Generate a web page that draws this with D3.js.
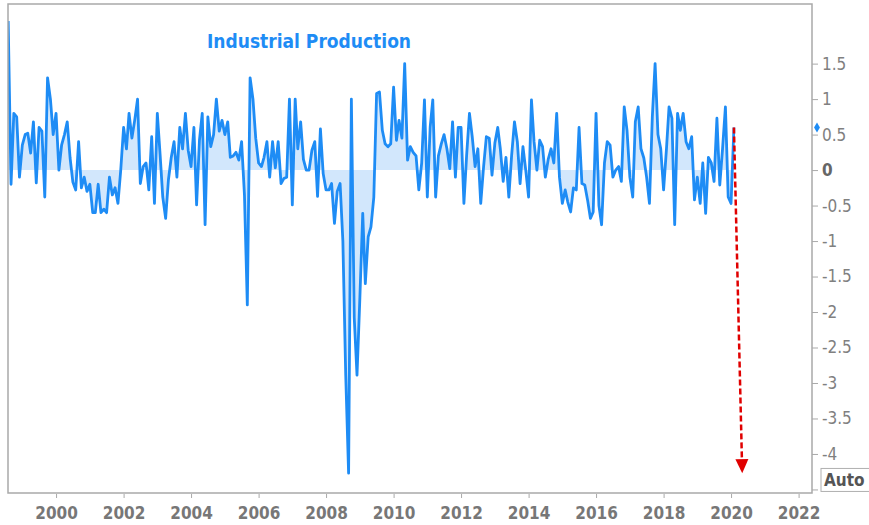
<!DOCTYPE html>
<html>
<head>
<meta charset="utf-8">
<script src="https://cdn.jsdelivr.net/npm/d3@7"></script>
<style>
  body { margin: 0; background: #fff; }
  svg { display: block; }
  text { font-family: "DejaVu Sans Condensed", "DejaVu Sans", sans-serif; }
</style>
</head>
<body>
<svg id="chart"></svg>
<script>
const title = "Industrial Production";
const firstMonth = new Date(1998, 7, 1);

// monthly % change, Aug 1998 .. Feb 2020
const ipChange = [
  2.1, -0.2, 0.8, 0.75, -0.1,                                          // 1998 (Aug-Dec)
  0.35, 0.5, 0.52, 0.24, 0.68, -0.18, 0.6, 0.55, -0.38, 1.3, 1.0, 0.5, // 1999
  0.8, 0.0, 0.35, 0.5, 0.68, 0.17, -0.17, -0.28, 0.4, -0.25, -0.1, -0.3, // 2000
  -0.2, -0.6, -0.6, -0.2, -0.6, -0.55, -0.6, -0.1, -0.35, -0.25, -0.47, 0.0, // 2001
  0.6, 0.3, 0.8, 0.45, 0.7, 1.0, -0.19, 0.05, 0.1, -0.28, 0.47, -0.47, // 2002
  0.8, 0.2, -0.38, -0.68, -0.14, 0.18, 0.4, -0.1, 0.6, 0.3, 0.8, 0.28, // 2003
  0.05, 0.6, -0.49, 0.42, 0.8, -0.77, 0.75, 0.33, 0.5, 1.0, 0.55, 0.7, // 2004
  0.5, 0.68, 0.18, 0.2, 0.25, 0.14, 0.4, -0.35, -1.9, 1.3, 1.0, 0.45, // 2005
  0.1, 0.05, 0.18, 0.4, -0.1, 0.4, 0.03, 0.4, -0.19, -0.12, -0.1, 1.0, // 2006
  -0.49, 1.0, 0.3, 0.68, 0.15, 0.0, 0.0, 0.28, 0.4, -0.37, 0.58, -0.05, // 2007
  -0.28, -0.28, -0.19, -0.75, -0.3, -0.19, -1.0, -2.89, -4.27, 1.0, -2.08, -2.89, // 2008
  -1.8, -0.61, -1.6, -0.94, -0.8, -0.38, 1.08, 1.1, 0.56, 0.37, 0.33, 0.37, // 2009
  1.17, 0.42, 0.7, 0.45, 1.5, 0.14, 0.33, 0.25, 0.2, -0.28, 0.1, 0.99, // 2010
  -0.38, 0.61, 0.99, -0.38, 0.2, 0.37, 0.5, 0.3, 0.02, 0.68, -0.1, 0.6, // 2011
  0.6, -0.47, 0.2, 0.8, 0.47, 0.05, 0.3, -0.47, 0.05, 0.47, 0.45, -0.07, // 2012
  0.38, 0.6, 0.3, -0.16, 0.18, -0.38, 0.2, 0.68, 0.4, -0.19, 0.33, 0.0, // 2013
  -0.38, 0.99, 0.4, 0.0, 0.42, 0.33, -0.1, 0.15, 0.3, 0.1, 0.8, -0.1, // 2014
  -0.47, -0.28, -0.45, -0.59, -0.25, -0.28, 0.6, -0.19, -0.21, -0.42, -0.68, -0.59, // 2015
  0.8, -0.5, -0.77, 0.1, 0.4, 0.35, -0.1, 0.0, 0.05, -0.16, 0.89, 0.56, // 2016
  -0.1, -0.38, 0.68, 0.89, 0.3, 0.17, -0.1, -0.47, 0.75, 1.5, 0.5, 0.3, // 2017
  -0.28, 0.3, 0.89, 0.73, -0.77, 0.8, 0.56, 0.8, 0.4, 0.3, 0.47, -0.42, // 2018
  -0.1, -0.47, 0.1, -0.61, 0.18, 0.1, -0.16, 0.73, -0.21, 0.3, 0.89, -0.38, // 2019
  -0.47, 0.6                                                            // 2020 (Jan-Feb)
];

const xTickYears = [2000, 2002, 2004, 2006, 2008, 2010, 2012, 2014, 2016, 2018, 2020, 2022];
const yTickValues = [1.5, 1, 0.5, 0, -0.5, -1, -1.5, -2, -2.5, -3, -3.5, -4, -4.5];
const scaleLabel = "Auto";
const arrowTarget = { date: new Date(2020, 4, 1), value: -4.27 };

const width = 869, height = 525;
const plot = { left: 8, top: 4, right: 812, bottom: 493 };

const svg = d3.select("#chart")
  .attr("width", width)
  .attr("height", height)
  .attr("viewBox", "0 0 " + width + " " + height);

const data = ipChange.map((v, i) => ({ date: d3.timeMonth.offset(firstMonth, i), value: v }));

const x = d3.scaleTime()
  .domain([new Date(1998, 6, 30), new Date(2022, 4, 26)])
  .range([plot.left, plot.right]);

const y = d3.scaleLinear()
  .domain([-4.55, 2.34])
  .range([plot.bottom, plot.top]);

svg.append("defs").append("clipPath").attr("id", "clip")
  .append("rect")
  .attr("x", plot.left).attr("y", plot.top)
  .attr("width", plot.right - plot.left).attr("height", plot.bottom - plot.top);

const g = svg.append("g").attr("clip-path", "url(#clip)");

// shaded band between series and zero
g.append("path")
  .datum(data)
  .attr("fill", "#d2e7fc")
  .attr("d", d3.area().x(d => x(d.date)).y0(y(0)).y1(d => y(d.value)));

g.append("path")
  .datum(data)
  .attr("fill", "none")
  .attr("stroke", "#1e8cf5")
  .attr("stroke-width", 2.8)
  .attr("stroke-linejoin", "round")
  .attr("d", d3.line().x(d => x(d.date)).y(d => y(d.value)));

// frame
svg.append("rect")
  .attr("x", plot.left).attr("y", plot.top)
  .attr("width", plot.right - plot.left).attr("height", plot.bottom - plot.top)
  .attr("fill", "none")
  .attr("stroke", "#a9a9a9")
  .attr("stroke-width", 1.5);

// x axis
const xAxis = svg.append("g")
  .attr("transform", "translate(0," + plot.bottom + ")")
  .call(d3.axisBottom(x)
    .tickValues(xTickYears.map(yr => new Date(yr, 0, 1)))
    .tickFormat(d3.timeFormat("%Y"))
    .tickSize(4)
    .tickPadding(10));
xAxis.select(".domain").remove();
xAxis.selectAll(".tick line").attr("stroke", "#a9a9a9").attr("transform", "translate(0,1)");
xAxis.selectAll(".tick text")
  .attr("fill", "#777")
  .attr("font-size", 17)
  .attr("font-weight", "bold")
  .attr("font-family", "'DejaVu Sans Condensed', 'DejaVu Sans', sans-serif");

// y axis on the right (bottom tick label sits under the scale box)
const yAxis = svg.append("g")
  .attr("transform", "translate(" + plot.right + ",0)")
  .call(d3.axisRight(y)
    .tickValues(yTickValues)
    .tickFormat(d => d === -4.5 ? "" : String(d))
    .tickSize(6)
    .tickPadding(4));
yAxis.select(".domain").remove();
yAxis.selectAll(".tick line").attr("stroke", "#a9a9a9");
yAxis.selectAll(".tick text")
  .attr("fill", d => d === 0 ? "#666" : "#808080")
  .attr("font-weight", d => d === 0 ? "bold" : "normal")
  .attr("font-size", 17)
  .attr("font-family", "'DejaVu Sans Condensed', 'DejaVu Sans', sans-serif");

// last value marker on the axis
const last = data[data.length - 1];
svg.append("path")
  .attr("d", d3.symbol(d3.symbolDiamond, 30)())
  .attr("transform", "translate(" + (plot.right + 5) + "," + y(last.value) + ")")
  .attr("fill", "#1e8cf5");

// scale label box
const box = svg.append("g").attr("transform", "translate(821," + (y(-4.5) - 21) + ")");
box.append("rect")
  .attr("width", 60).attr("height", 23)
  .attr("fill", "#fff")
  .attr("stroke", "#b0b0b0");
box.append("text")
  .attr("x", 3).attr("y", 18)
  .attr("font-size", 17)
  .attr("font-weight", "bold")
  .attr("fill", "#555")
  .text(scaleLabel);

// title
svg.append("text")
  .attr("x", 309)
  .attr("y", 48)
  .attr("text-anchor", "middle")
  .attr("font-size", 19)
  .attr("font-weight", "bold")
  .attr("fill", "#1e8cf5")
  .text(title);

// red dashed arrow from last point
const ax1 = x(last.date), ay1 = y(last.value);
const ax2 = x(arrowTarget.date), ay2 = y(arrowTarget.value);
const ang = Math.atan2(ay2 - ay1, ax2 - ax1);
const headLen = 14, headW = 6.5;
const bx = ax2 - headLen * Math.cos(ang), by = ay2 - headLen * Math.sin(ang);
svg.append("line")
  .attr("x1", ax1).attr("y1", ay1)
  .attr("x2", bx).attr("y2", by)
  .attr("stroke", "#e00000")
  .attr("stroke-width", 2.5)
  .attr("stroke-dasharray", "6,3");
svg.append("path")
  .attr("d", "M" + ax2 + "," + ay2 +
    "L" + (bx + headW * Math.sin(ang)) + "," + (by - headW * Math.cos(ang)) +
    "L" + (bx - headW * Math.sin(ang)) + "," + (by + headW * Math.cos(ang)) + "Z")
  .attr("fill", "#e00000");
</script>
</body>
</html>
